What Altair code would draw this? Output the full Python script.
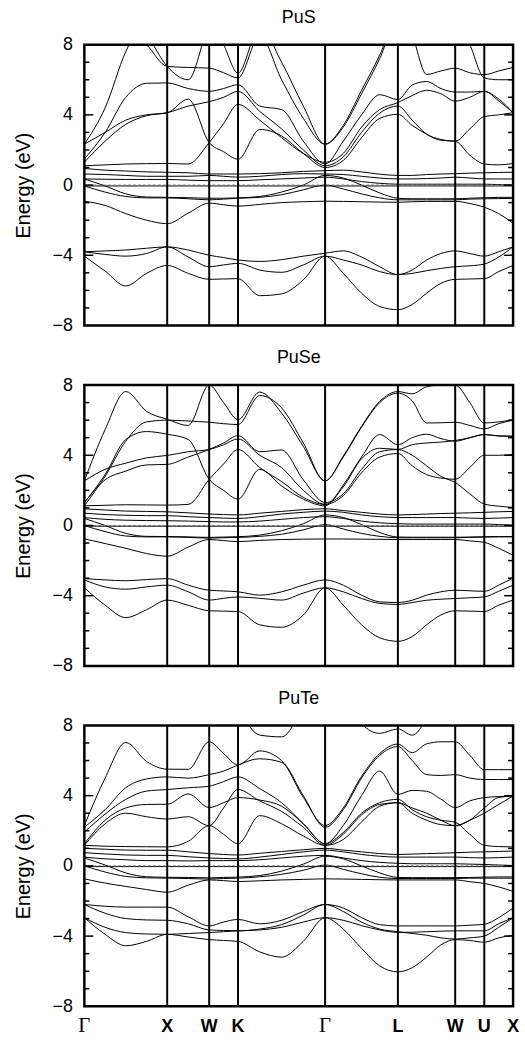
import altair as alt
import pandas as pd

# k-path sample positions (plot units) and high-symmetry points
K_SAMPLES = [0, 20.9, 41.7, 62.6, 83.4, 104.6, 125.7, 140.2, 154.7, 176.6, 198.6, 220.5,
             242.4, 260.7, 279.1, 297.4, 315.7, 330.1, 344.6, 359.0, 373.4, 388.1, 402.7,
             417.2, 431.7]
HS_POS = [0, 83.4, 125.7, 154.7, 242.4, 315.7, 373.4, 402.7, 431.7]
HS_LABELS = ["Γ", "X", "W", "K", "Γ", "L", "W", "U", "X"]
PANEL_TITLES = ["PuS", "PuSe", "PuTe"]
Y_TICKS = [-8, -4, 0, 4, 8]
MINOR_TICKS = [-7, -6, -5, -3, -2, -1, 1, 2, 3, 5, 6, 7]
MAJOR_TICKS = [-4, 0, 4]

PUS_BANDS = {
    "L1": [-3.8, -3.75, -3.7, -3.6, -3.52, -3.7, -4.0, -4.13, -4.27, -4.35, -4.25, -4.05, -3.88, -3.75, -4.1, -4.65, -5.1, -4.84, -4.27, -3.9, -3.75, -3.9, -4.05, -3.8, -3.52],
    "L2": [-3.8, -3.95, -4.05, -3.9, -3.52, -4.1, -4.65, -4.55, -4.46, -4.84, -4.97, -4.55, -4.05, -4.27, -4.55, -4.93, -5.1, -5.03, -4.88, -4.75, -4.65, -4.6, -4.5, -4.1, -3.52],
    "L3": [-4.05, -4.9, -5.75, -5.03, -4.58, -5.03, -5.37, -5.35, -5.33, -6.3, -6.2, -5.4, -4.05, -5.03, -6.16, -6.92, -7.1, -6.8, -6.16, -5.6, -5.37, -5.35, -5.33, -4.93, -4.58],
    "D":  [-0.92, -1.16, -1.63, -2.0, -2.2, -1.6, -1.03, -1.12, -1.2, -1.1, -1.0, -0.95, -0.92, -0.93, -0.95, -0.97, -0.98, -0.95, -0.93, -0.93, -0.93, -1.05, -1.26, -1.63, -2.17],
    "F1": [-0.05, -0.4, -0.65, -0.73, -0.73, -0.78, -0.84, -0.8, -0.75, -0.7, -0.55, -0.27, 0.0, -0.22, -0.5, -0.73, -0.84, -0.84, -0.84, -0.84, -0.84, -0.8, -0.78, -0.77, -0.76],
    "F2": [0.35, -0.05, -0.5, -0.68, -0.7, -0.72, -0.75, -0.75, -0.73, -0.65, -0.4, 0.0, 0.55, 0.4, 0.0, -0.45, -0.75, -0.78, -0.78, -0.78, -0.78, -0.75, -0.72, -0.7, -0.7],
    "F0": [-0.05, -0.05, -0.05, -0.05, -0.05, -0.05, -0.05, -0.05, -0.05, -0.05, -0.05, -0.05, -0.05, -0.05, -0.05, -0.05, -0.05, -0.05, -0.05, -0.05, -0.05, -0.05, -0.05, -0.05, -0.05],
    "Fc": [0.35, 0.33, 0.32, 0.32, 0.32, 0.28, 0.25, 0.25, 0.25, 0.3, 0.35, 0.4, 0.45, 0.35, 0.2, 0.1, 0.05, 0.05, 0.05, 0.05, 0.05, 0.05, 0.05, 0.03, 0.0],
    "Fb": [0.63, 0.6, 0.55, 0.5, 0.5, 0.5, 0.55, 0.5, 0.45, 0.5, 0.6, 0.65, 0.63, 0.6, 0.5, 0.4, 0.35, 0.35, 0.37, 0.4, 0.45, 0.4, 0.35, 0.35, 0.35],
    "Fa": [0.95, 0.85, 0.8, 0.75, 0.73, 0.7, 0.63, 0.63, 0.63, 0.65, 0.7, 0.78, 0.82, 0.85, 0.75, 0.62, 0.55, 0.55, 0.6, 0.63, 0.65, 0.68, 0.7, 0.72, 0.73],
    "UA": [2.33, 4.4, 7.6, 9.5, 10, 10, 9.5, 8.0, 6.38, 9.0, 7.0, 4.5, 2.33, 3.3, 5.2, 7.2, 9.5, 8.5, 6.3, 6.5, 6.66, 6.4, 6.29, 6.5, 6.7],
    "UB": [10.5, 9.8, 9.0, 8.0, 6.76, 6.7, 6.66, 6.4, 6.1, 8.5, 6.0, 3.8, 2.33, 3.4, 5.4, 7.4, 9.8, 10, 9.5, 9.5, 9.5, 8.0, 6.1, 6.0, 6.0],
    "UB2": [11, 10.5, 10, 8.6, 6.76, 6.0, 9.0, 9.5, 9.5, 10, 10, 10, 10, 10, 10, 10, 10, 10, 10, 10, 10, 10, 10, 10, 10],
    "UC": [1.48, 3.0, 5.0, 5.8, 5.82, 5.5, 5.34, 5.5, 5.72, 4.5, 4.3, 2.5, 1.2, 2.5, 4.0, 5.15, 4.87, 5.7, 5.9, 5.5, 5.3, 5.3, 5.34, 4.8, 4.12],
    "UD1": [2.33, 3.0, 3.7, 4.0, 4.12, 4.9, 2.42, 1.9, 1.47, 3.17, 2.8, 1.8, 1.0, 1.4, 2.7, 3.8, 4.03, 3.4, 2.9, 2.55, 2.5, 1.7, 1.2, 1.15, 1.23],
    "UD2": [1.3, 2.5, 3.46, 3.95, 4.12, 4.5, 4.75, 5.0, 5.34, 4.2, 3.2, 2.0, 1.1, 1.6, 3.0, 4.1, 4.5, 3.7, 2.9, 2.6, 2.5, 3.2, 3.9, 4.0, 4.12],
    "UE": [1.1, 1.15, 1.2, 1.22, 1.23, 1.2, 2.42, 3.5, 4.6, 3.7, 2.7, 1.8, 1.3, 1.8, 3.3, 4.3, 4.7, 5.1, 5.4, 5.2, 4.78, 5.0, 5.34, 4.9, 4.12],
}

PUSE_BANDS = {
    "L1": [-3.03, -3.1, -3.15, -3.08, -3.03, -3.4, -3.69, -3.73, -3.78, -3.97, -3.78, -3.4, -3.1, -3.4, -3.97, -4.35, -4.39, -4.26, -3.97, -3.78, -3.69, -3.72, -3.75, -3.4, -2.99],
    "L2": [-3.1, -3.5, -3.63, -3.5, -3.4, -3.78, -4.25, -4.15, -4.07, -4.15, -4.25, -3.85, -3.55, -3.78, -4.16, -4.44, -4.5, -4.39, -4.26, -4.2, -4.16, -4.12, -4.07, -3.75, -3.4],
    "L3": [-3.55, -4.54, -5.25, -4.8, -4.25, -4.55, -4.86, -4.88, -4.9, -5.66, -5.8, -5.1, -3.55, -4.54, -5.66, -6.4, -6.6, -6.33, -5.66, -5.1, -4.86, -4.88, -4.9, -4.54, -4.25],
    "D":  [-0.76, -1.03, -1.3, -1.6, -1.75, -1.23, -0.8, -0.86, -0.92, -0.85, -0.8, -0.78, -0.77, -0.77, -0.78, -0.79, -0.8, -0.8, -0.8, -0.8, -0.8, -0.88, -0.96, -1.3, -1.7],
    "F1": [0.0, -0.35, -0.6, -0.65, -0.65, -0.68, -0.72, -0.7, -0.68, -0.62, -0.5, -0.25, 0.05, -0.2, -0.45, -0.62, -0.7, -0.7, -0.7, -0.7, -0.7, -0.68, -0.66, -0.65, -0.65],
    "F2": [0.4, 0.0, -0.45, -0.62, -0.63, -0.65, -0.68, -0.66, -0.64, -0.55, -0.3, 0.1, 0.6, 0.45, 0.05, -0.4, -0.66, -0.67, -0.67, -0.67, -0.67, -0.66, -0.64, -0.63, -0.63],
    "F0": [-0.04, -0.04, -0.04, -0.04, -0.04, -0.04, -0.04, -0.04, -0.04, -0.04, -0.04, -0.04, -0.04, -0.04, -0.04, -0.04, -0.04, -0.04, -0.04, -0.04, -0.04, -0.04, -0.04, -0.04, -0.04],
    "Fc": [0.45, 0.35, 0.3, 0.28, 0.27, 0.25, 0.22, 0.2, 0.2, 0.25, 0.35, 0.45, 0.5, 0.4, 0.25, 0.15, 0.1, 0.08, 0.08, 0.08, 0.08, 0.08, 0.08, 0.05, 0.02],
    "Fb": [0.7, 0.62, 0.58, 0.56, 0.56, 0.5, 0.45, 0.42, 0.4, 0.5, 0.65, 0.75, 0.82, 0.75, 0.6, 0.5, 0.45, 0.45, 0.45, 0.45, 0.45, 0.42, 0.4, 0.42, 0.45],
    "Fa": [0.95, 0.88, 0.82, 0.8, 0.78, 0.72, 0.65, 0.62, 0.6, 0.7, 0.8, 0.9, 0.95, 0.85, 0.75, 0.65, 0.6, 0.62, 0.65, 0.68, 0.7, 0.72, 0.75, 0.78, 0.8],
    "UA": [2.54, 5.46, 7.63, 6.5, 6.05, 5.7, 8.0, 7.0, 6.03, 7.6, 6.4, 4.5, 2.54, 3.95, 5.65, 7.07, 7.63, 7.5, 7.9, 8.0, 8.0, 7.0, 5.84, 5.9, 6.03],
    "UB": [1.12, 2.8, 4.8, 5.9, 6.0, 5.95, 5.88, 5.8, 5.75, 7.4, 6.7, 4.7, 2.54, 3.9, 5.6, 7.0, 7.54, 7.1, 5.84, 5.85, 5.88, 5.7, 5.5, 5.8, 6.0],
    "UC": [1.3, 2.9, 4.9, 5.35, 5.2, 4.9, 2.63, 2.0, 1.5, 3.2, 2.25, 1.5, 1.12, 2.3, 3.9, 5.18, 4.6, 5.0, 5.2, 4.95, 4.8, 5.0, 5.18, 5.1, 5.08],
    "UD": [2.54, 3.2, 3.55, 3.85, 3.99, 4.2, 4.33, 4.6, 4.93, 4.0, 3.3, 2.0, 1.2, 1.7, 3.0, 3.9, 4.1, 3.4, 2.9, 2.7, 2.63, 3.3, 4.0, 4.0, 4.04],
    "UE": [1.3, 2.6, 3.1, 3.45, 3.48, 3.9, 4.33, 4.7, 5.12, 4.2, 4.3, 2.6, 1.31, 1.8, 3.2, 4.2, 4.33, 4.0, 3.4, 2.8, 2.45, 1.8, 1.22, 1.1, 1.03],
    "UF": [1.12, 1.15, 1.18, 1.17, 1.16, 1.2, 2.63, 3.5, 4.33, 3.3, 2.5, 1.6, 1.2, 2.2, 3.8, 4.4, 4.33, 4.6, 4.7, 4.75, 4.84, 5.0, 5.18, 5.1, 5.08],
}

PUTE_BANDS = {
    "L1": [-2.2, -2.3, -2.35, -2.35, -2.35, -2.9, -3.42, -3.2, -3.05, -3.3, -3.1, -2.6, -2.2, -2.4, -2.95, -3.35, -3.42, -3.42, -3.42, -3.42, -3.42, -3.38, -3.33, -2.95, -2.4],
    "L2": [-2.2, -2.7, -3.0, -3.08, -3.1, -3.3, -3.65, -3.68, -3.7, -3.6, -3.35, -2.8, -2.2, -2.6, -3.2, -3.6, -3.75, -3.85, -3.95, -4.1, -4.17, -4.1, -4.0, -3.5, -2.95],
    "L3": [-2.95, -3.9, -4.55, -4.3, -3.9, -4.05, -4.2, -4.25, -4.3, -4.9, -5.2, -4.3, -2.95, -3.6, -4.7, -5.7, -6.04, -5.8, -5.2, -4.5, -4.2, -4.25, -4.35, -4.1, -3.95],
    "L4": [-2.95, -3.5, -3.8, -3.88, -3.9, -3.85, -3.8, -3.75, -3.7, -3.65, -3.5, -3.2, -2.95, -3.1, -3.4, -3.65, -3.79, -3.78, -3.75, -3.72, -3.7, -3.7, -3.7, -3.3, -2.95],
    "D":  [-0.74, -0.98, -1.17, -1.35, -1.5, -1.1, -0.8, -0.84, -0.89, -0.85, -0.8, -0.77, -0.74, -0.75, -0.77, -0.79, -0.8, -0.8, -0.8, -0.8, -0.8, -0.9, -1.0, -1.2, -1.45],
    "F1": [0.0, -0.35, -0.6, -0.68, -0.7, -0.72, -0.75, -0.72, -0.7, -0.62, -0.48, -0.25, 0.05, -0.2, -0.45, -0.65, -0.72, -0.72, -0.72, -0.72, -0.72, -0.7, -0.7, -0.7, -0.7],
    "F2": [0.45, 0.05, -0.4, -0.62, -0.65, -0.66, -0.68, -0.66, -0.64, -0.55, -0.3, 0.1, 0.55, 0.4, 0.0, -0.4, -0.66, -0.67, -0.67, -0.67, -0.67, -0.66, -0.64, -0.63, -0.63],
    "F0": [-0.04, -0.04, -0.04, -0.04, -0.04, -0.04, -0.04, -0.04, -0.04, -0.04, -0.04, -0.04, -0.04, -0.04, -0.04, -0.04, -0.04, -0.04, -0.04, -0.04, -0.04, -0.04, -0.04, -0.04, -0.04],
    "Fc": [0.5, 0.4, 0.35, 0.3, 0.3, 0.28, 0.3, 0.3, 0.3, 0.35, 0.45, 0.55, 0.6, 0.45, 0.3, 0.2, 0.15, 0.12, 0.12, 0.12, 0.12, 0.1, 0.08, 0.05, 0.02],
    "Fb": [0.75, 0.68, 0.62, 0.6, 0.6, 0.52, 0.45, 0.42, 0.4, 0.5, 0.65, 0.8, 0.9, 0.8, 0.65, 0.55, 0.5, 0.5, 0.5, 0.5, 0.5, 0.47, 0.45, 0.47, 0.5],
    "Fa": [1.0, 0.95, 0.9, 0.89, 0.89, 0.8, 0.7, 0.65, 0.62, 0.72, 0.82, 0.92, 1.0, 0.9, 0.8, 0.7, 0.65, 0.67, 0.7, 0.72, 0.75, 0.78, 0.8, 0.82, 0.85],
    "UT": [11, 11, 11, 11, 11, 11, 11, 10.5, 9.0, 7.45, 7.35, 9.0, 11, 10, 8.1, 7.55, 7.8, 7.45, 8.5, 11, 11, 11, 11, 11, 11],
    "UA": [2.3, 5.0, 7.03, 5.95, 5.51, 5.5, 7.07, 6.4, 5.75, 6.55, 6.0, 3.9, 2.3, 3.3, 5.1, 6.4, 6.94, 6.45, 6.95, 7.07, 7.07, 6.3, 5.48, 5.48, 5.48],
    "UB": [2.2, 3.2, 4.45, 4.95, 5.07, 5.0, 5.2, 5.4, 5.75, 6.1, 5.9, 4.0, 2.2, 3.2, 5.0, 6.3, 6.8, 6.0, 5.2, 5.15, 5.2, 5.0, 4.92, 4.92, 4.92],
    "UC": [1.92, 2.95, 3.79, 4.26, 4.35, 4.45, 4.54, 4.8, 5.07, 4.4, 3.6, 2.4, 1.26, 2.3, 4.0, 5.4, 4.07, 4.3, 4.25, 3.8, 3.32, 3.7, 3.89, 3.95, 3.98],
    "UD": [1.26, 2.6, 3.3, 3.5, 3.51, 4.1, 3.32, 3.6, 3.89, 3.75, 3.4, 2.4, 1.26, 1.9, 3.0, 3.6, 3.79, 3.2, 2.8, 2.6, 2.48, 1.8, 1.17, 1.1, 1.08],
    "UE": [1.17, 2.4, 3.0, 2.8, 2.67, 2.8, 2.29, 3.3, 4.35, 3.7, 3.1, 2.2, 1.17, 1.8, 2.9, 3.5, 3.6, 3.0, 2.6, 2.35, 2.29, 2.6, 3.0, 3.5, 3.98],
    "UF": [1.17, 1.12, 1.1, 1.09, 1.08, 1.4, 2.29, 1.8, 1.26, 2.86, 2.4, 1.7, 1.17, 1.5, 2.5, 3.4, 3.6, 3.3, 3.0, 2.6, 2.29, 2.6, 3.3, 3.9, 3.98],
}

ALL_BANDS = [PUS_BANDS, PUSE_BANDS, PUTE_BANDS]

W, H = 432, 283
FONT = "Liberation Sans"
xscale = alt.Scale(domain=[0, HS_POS[-1]], nice=False, zero=False)
yscale = alt.Scale(domain=[-8, 8], nice=False, zero=False)
Y_AXIS = alt.Axis(values=Y_TICKS, title="Energy (eV)", ticks=False, grid=False,
                  domain=False, labelFontSize=18, labelFont=FONT,
                  titleFontSize=20, titleFont=FONT, titleFontWeight="normal",
                  labelPadding=12, titlePadding=19, labelColor="black",
                  titleColor="black")


def band_frame(bands):
    rows = []
    for name, vals in bands.items():
        for k, e in zip(K_SAMPLES, vals):
            rows.append({"k": k, "E": e, "band": name})
    return pd.DataFrame(rows)


def make_panel(title, bands, bottom):
    df = band_frame(bands)
    lines = alt.Chart(df).mark_line(
        interpolate="monotone", clip=True, color="black", strokeWidth=1
    ).encode(
        x=alt.X("k:Q", scale=xscale, axis=None),
        y=alt.Y("E:Q", scale=yscale, axis=Y_AXIS),
        detail="band:N",
    )
    vdf = pd.DataFrame({"k": HS_POS[1:-1]})
    vlines = alt.Chart(vdf).mark_rule(color="black", strokeWidth=2).encode(
        x=alt.X("k:Q", scale=xscale, axis=None))
    zdf = pd.DataFrame({"E": [0]})
    zero_dash = alt.Chart(zdf).mark_rule(color="#777777", strokeWidth=1, strokeDash=[3, 2]).encode(
        y=alt.Y("E:Q", scale=yscale, axis=Y_AXIS))
    mdf = pd.DataFrame({"E": MINOR_TICKS})
    Mdf = pd.DataFrame({"E": MAJOR_TICKS})
    tl = alt.Chart(mdf).mark_rule(color="black", strokeWidth=1.5).encode(
        x=alt.value(0), x2=alt.value(5), y=alt.Y("E:Q", scale=yscale, axis=Y_AXIS))
    tr = alt.Chart(mdf).mark_rule(color="black", strokeWidth=1.5).encode(
        x=alt.value(W - 5), x2=alt.value(W), y=alt.Y("E:Q", scale=yscale, axis=Y_AXIS))
    tl2 = alt.Chart(Mdf).mark_rule(color="black", strokeWidth=1.5).encode(
        x=alt.value(0), x2=alt.value(9), y=alt.Y("E:Q", scale=yscale, axis=Y_AXIS))
    tr2 = alt.Chart(Mdf).mark_rule(color="black", strokeWidth=1.5).encode(
        x=alt.value(W - 9), x2=alt.value(W), y=alt.Y("E:Q", scale=yscale, axis=Y_AXIS))
    layers = [lines, zero_dash, vlines, tl, tr, tl2, tr2]
    if bottom:
        ldf = pd.DataFrame({"k": HS_POS, "lab": HS_LABELS})
        gam = alt.Chart(ldf).transform_filter(alt.datum.lab == "Γ").mark_text(
            font="Liberation Serif", fontSize=21, baseline="alphabetic", align="center", color="black"
        ).encode(x=alt.X("k:Q", scale=xscale, axis=None), y=alt.value(H + 26), text="lab:N")
        oth = alt.Chart(ldf).transform_filter(alt.datum.lab != "Γ").mark_text(
            font=FONT, fontSize=18, fontWeight="bold", baseline="alphabetic", align="center", color="black"
        ).encode(x=alt.X("k:Q", scale=xscale, axis=None), y=alt.value(H + 26), text="lab:N")
        layers += [gam, oth]
    return alt.layer(*layers).properties(
        width=W, height=H,
        title=alt.TitleParams(title, fontSize=18, font=FONT, fontWeight="normal", anchor="middle",
                              frame="group", offset=9, color="black"),
    )


panels = [make_panel(t, b, i == 2) for i, (t, b) in enumerate(zip(PANEL_TITLES, ALL_BANDS))]
chart = alt.vconcat(*panels, spacing=11).properties(
    padding={"left": 12, "top": 3, "right": 4, "bottom": 2},
    background="white",
).configure_view(stroke="black", strokeWidth=2.5)

chart.save("out.html", embed_options={"renderer": "svg", "actions": False})
